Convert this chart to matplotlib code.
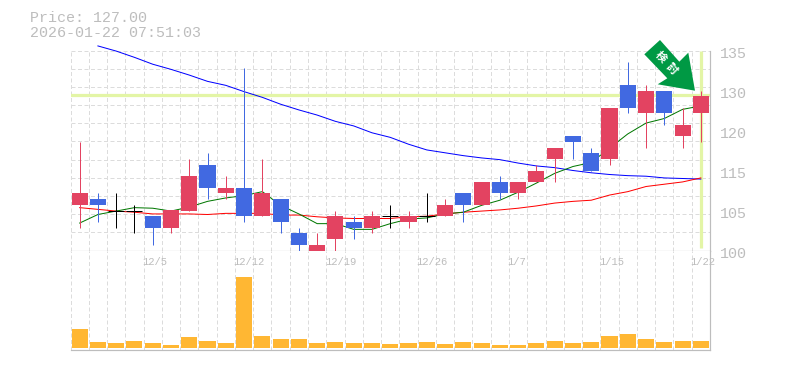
import numpy as np
import matplotlib
matplotlib.use("Agg")
import matplotlib.pyplot as plt
from matplotlib.patches import Polygon
from matplotlib.transforms import Affine2D

opens = [108, 109, 107, 107, 106, 104, 107, 115, 110, 111, 106, 109, 103, 100, 102, 105, 104, 106,
         105, 106, 106, 110, 108, 112, 110, 112, 116, 120, 117, 116, 129, 124, 128, 120, 124]
highs = [119, 110, 110, 108, 106, 107, 116, 117, 113, 132, 116, 109, 104, 103, 107, 106, 107, 108,
         107, 110, 109, 110, 112, 113, 112, 115, 118, 120, 118, 125, 133, 129, 128, 125, 128]
lows = [104, 105, 104, 103, 101, 103, 107, 109, 109, 105, 106, 103, 100, 100, 100, 102, 103, 104,
        104, 105, 106, 105, 108, 109, 109, 112, 112, 116, 114, 115, 124, 118, 122, 118, 119]
closes = [110, 108, 107, 107, 104, 107, 113, 111, 111, 106, 110, 105, 101, 101, 106, 104, 106, 106,
          106, 106, 108, 108, 112, 110, 112, 114, 118, 119, 114, 125, 125, 128, 124, 122, 127]
volumes = [19, 6, 5, 7, 5, 3, 11, 7, 5, 71, 12, 9, 9, 5, 6, 5, 5, 4,
           5, 6, 4, 6, 5, 3, 3, 5, 7, 5, 6, 12, 14, 9, 6, 7, 7]
ma_short = [104.8, 106.3, 106.9, 107.5, 107.4, 106.9, 107.6, 108.6, 109.2, 109.6, 110.3, 107.9,
            106.4, 104.7, 104.7, 103.7, 103.7, 104.7, 105.5, 105.7, 106.4, 106.7, 107.9, 108.8,
            110.2, 111.8, 113.5, 114.7, 115.4, 117.9, 120.4, 122.3, 123.1, 124.7, 125.3]
ma_mid = [107.5, 107.2, 106.9, 106.7, 106.4, 106.4, 106.4, 106.3, 106.5, 106.5, 106.5, 106.2,
          106.2, 105.9, 105.7, 105.6, 105.6, 105.6, 105.9, 106.0, 106.4, 106.7, 106.9, 107.1,
          107.4, 107.8, 108.3, 108.6, 108.8, 109.7, 110.3, 111.2, 111.6, 112.0, 112.7]
ma_long = [np.nan, 135.8, 134.9, 133.8, 132.6, 131.7, 130.7, 129.6, 128.9, 127.8, 126.8, 125.6,
           124.6, 123.7, 122.6, 121.8, 120.6, 119.8, 118.6, 117.6, 117.1, 116.6, 116.2, 115.9,
           115.3, 114.8, 114.5, 114.0, 113.6, 113.3, 113.1, 113.0, 112.7, 112.6, 112.5]
date_idx = [4, 9, 14, 19, 24, 29, 34]
date_labels = ["12/5", "12/12", "12/19", "12/26", "1/7", "1/15", "1/22"]
price_ticks = [100, 107, 114, 121, 128, 135]
price_labels = ["100", "105", "115", "120", "130", "135"]
last_price = 127
price_text = "Price: 127.00"
time_text = "2026-01-22 07:51:03"

RED = "#E34361"
BLUE = "#4169E1"
GREY = "#BDBDBD"
GRID = "#DCDCDC"
MARK = "#E3F5A6"
MONO = "Liberation Mono"
W, H = 785, 370
PX = 0.72


def box(l, t, r, b):
    return [l / W, 1 - b / H, (r - l) / W, (b - t) / H]


def candle_color(o, c):
    if c > o:
        return RED
    if c < o:
        return BLUE
    return "black"


def setup_grid(ax):
    ax.set_xlim(-0.5, 34.5)
    ax.set_xticks(np.arange(-0.5, 35))
    ax.tick_params(length=0, labelbottom=False, labelleft=False)
    ax.grid(True, color=GRID, lw=PX, ls=(0, (4, 2.5)))
    ax.set_axisbelow(True)
    for s in ["top", "left"]:
        ax.spines[s].set_visible(False)
    for s in ["right", "bottom"]:
        ax.spines[s].set_color(GREY)
        ax.spines[s].set_linewidth(PX * 1.2)


fig = plt.figure(figsize=(W / 100, H / 100), dpi=100, facecolor="white")
ax = fig.add_axes(box(70.5, 50.5, 710, 250.5))
vol = fig.add_axes(box(70.5, 250.5, 710, 350))
setup_grid(ax)
setup_grid(vol)

ax.set_ylim(100, 135)
ax.set_yticks(np.linspace(100, 135, 12))
vol.set_ylim(-2, 97.5)
vol.set_yticks([])

xs = np.arange(len(closes))
ax.axhline(last_price + 0.15, color=MARK, lw=PX * 3.2, zorder=1.5)
ax.plot([34, 34], [100.4, 135], color=MARK, lw=PX * 3.2, zorder=1.5, solid_capstyle="butt")

ax.plot(xs, ma_long, color="#0000FF", lw=PX, zorder=2, clip_on=False)
ax.plot(xs, ma_mid, color="#FF0000", lw=PX, zorder=2)
ax.plot(xs, ma_short, color="#007700", lw=PX, zorder=2)

colors = [candle_color(o, c) for o, c in zip(opens, closes)]
ax.vlines(xs, lows, highs, colors=colors, lw=PX, zorder=3)
for x, o, c, col in zip(xs, opens, closes, colors):
    if o == c:
        ax.hlines(o, x - 0.44, x + 0.44, color=col, lw=PX, zorder=3)
    else:
        ax.bar(x, abs(c - o), bottom=min(o, c), width=0.88, color=col, lw=0, zorder=3)

vol.bar(xs, volumes, width=0.88, color="#FFB733", lw=0, zorder=3)

for p, lbl in zip(price_ticks, price_labels):
    ax.annotate(lbl, (1, p), xycoords=("axes fraction", "data"), xytext=(7, -2.2),
                textcoords="offset points", va="center", ha="left",
                family=MONO, fontsize=10.8, color=GREY, annotation_clip=False)

for i, lbl in zip(date_idx, date_labels):
    vol.annotate(lbl, (i, 1), xycoords=("data", "axes fraction"), xytext=(-7.6, -8.6),
                 textcoords="offset points", va="center", ha="left",
                 family=MONO, fontsize=7.6, color=GREY, annotation_clip=False)

fig.text(30 / W, 1 - 18 / H, price_text, family=MONO, fontsize=10.8, color=GREY, va="center")
fig.text(30 / W, 1 - 33 / H, time_text, family=MONO, fontsize=10.8, color=GREY, va="center")

# arrow badge, in pixels from the top left corner
to_fig = Affine2D().scale(1, -1).translate(0, H)
arrow = [(660, 40), (644.3, 54.3), (667.3, 78.3), (657.7, 84.3), (695, 90.7), (688.3, 52.7), (679.3, 61.7)]
fig.add_artist(Polygon(arrow, closed=True, facecolor="#009944", edgecolor="none",
                       transform=to_fig, zorder=5))
for ch, cx, cy in [("検", 660.5, 56.5), ("討", 671.5, 68.5)]:
    fig.text(cx / W, 1 - cy / H, ch, family=["Noto Sans CJK JP", "DejaVu Sans"], fontweight="bold",
             fontsize=8, color="white", rotation=-45, rotation_mode="anchor",
             ha="center", va="center", zorder=6)

fig.savefig("out.png", dpi=100)
